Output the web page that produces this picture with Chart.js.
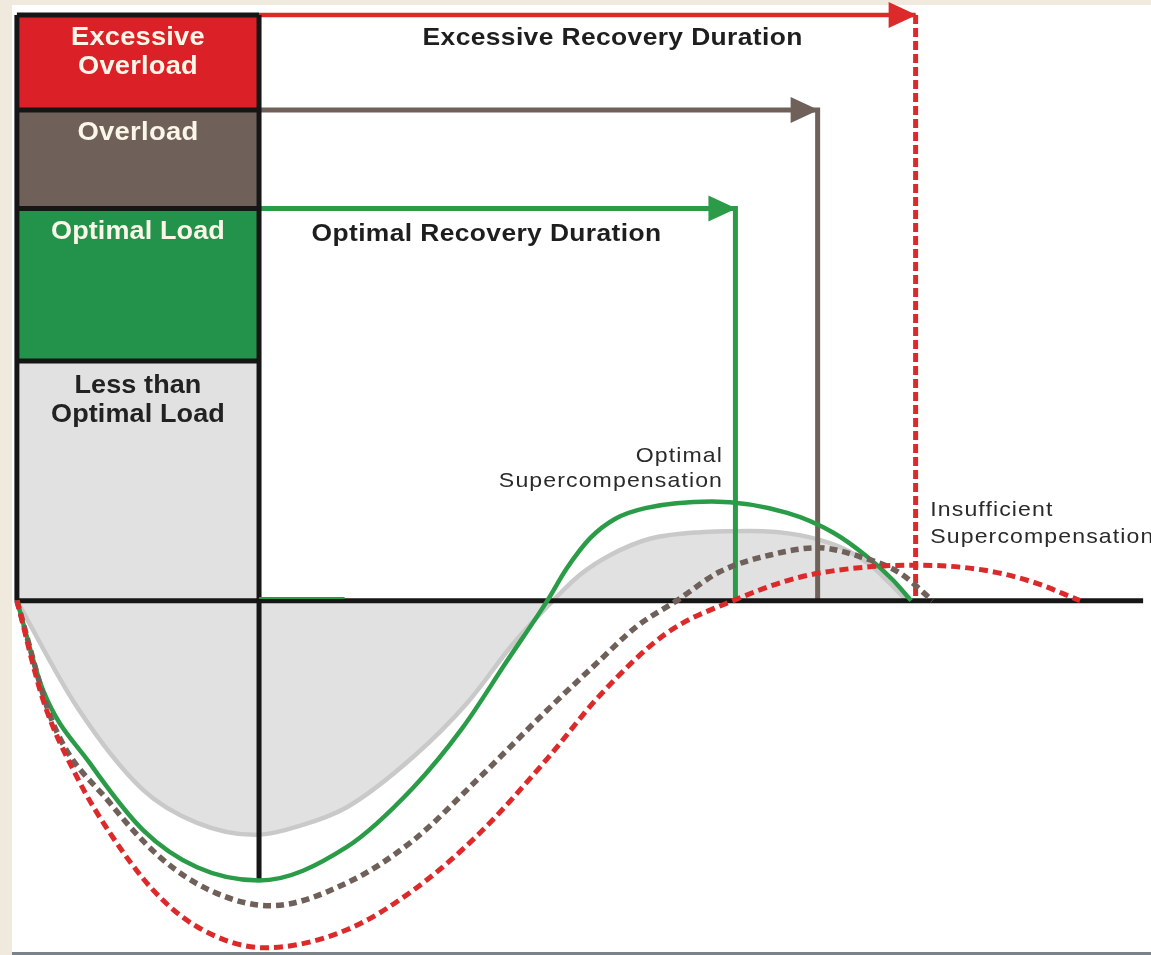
<!DOCTYPE html>
<html><head><meta charset="utf-8">
<script src="https://cdn.jsdelivr.net/npm/chart.js@4.4.1/dist/chart.umd.min.js"></script>
<style>html,body{margin:0;padding:0;background:#efe9de;overflow:hidden}canvas{display:block}</style>
</head><body>
<canvas id="c" width="1151" height="955"></canvas>
<script>
// ---------- data (time units on x, performance level on y; 0 = baseline) ----------
const loadCategories = ['Excessive Overload', 'Overload', 'Optimal Load', 'Less than Optimal Load'];
const loadLevels = [97.5, 81.7, 65.3, 39.9];      // top of each load block
const loadEnd = 21.5;                              // end of the training load
const recoveryEnds = [79.8, 71.1, 63.8];           // excessive, overload, optimal recovery end
const axisEnd = 100;

const lessX = [0, 5.34, 11.2, 16.0, 21.1, 25.1, 29.3, 35.2, 40.0, 44.1, 47.6, 50.0, 52.7, 56.2, 60.7, 65.1, 69.5, 73.1, 75.8, 77.5, 79.0];
const lessY = [0, -17.7, -31.5, -37.0, -39.0, -37.5, -34.4, -26.0, -17.0, -7.1, 0, 4.3, 7.6, 10.3, 11.4, 11.6, 10.9, 8.9, 5.9, 2.9, 0];

const optimalX = [0, 2.32, 6.49, 11.2, 16.0, 21.5, 29.3, 35.2, 39.6, 43.5, 47.1, 48.8, 50.9, 53.1, 55.8, 61.7, 68.4, 72.5, 75.5, 77.8, 79.4];
const optimalY = [0, -14.9, -27.1, -38.2, -44.4, -46.6, -41.0, -31.1, -21.1, -10.1, 0, 5.3, 10.4, 13.6, 15.4, 16.5, 14.6, 11.3, 7.3, 3.4, 0];

const overloadX = [0, 3.21, 8.27, 12.7, 17.1, 22.5, 29.3, 35.2, 41.1, 47.1, 51.5, 55.1, 58.6, 62.4, 66.9, 71.1, 74.9, 78.4, 81.3];
const overloadY = [0, -20.4, -33.7, -42.7, -48.2, -50.8, -47.0, -39.9, -29.4, -18.2, -10.4, -4.2, 0, 4.8, 7.6, 8.8, 7.3, 4.6, 0];

const excessiveX = [0, 2.32, 5.34, 8.27, 12.1, 16.0, 22.0, 29.3, 35.2, 41.1, 47.1, 51.8, 57.7, 63.6, 69.5, 75.5, 79.9, 85.8, 90.2, 94.4];
const excessiveY = [0, -16.5, -29.4, -38.7, -48.2, -54.3, -57.8, -54.8, -48.2, -38.7, -26.3, -15.7, -5.4, 0, 3.9, 5.6, 5.9, 5.1, 3.1, 0];

const boxLabelLines = [['Excessive', 'Overload'], ['Overload'], ['Optimal Load'], ['Less than', 'Optimal Load']];
const durationLabels = ['Excessive Recovery Duration', 'Optimal Recovery Duration'];
const supercompLabels = [['Optimal', 'Supercompensation'], ['Insufficient', 'Supercompensation']];

// ---------- styles & layout ----------
const C = {
  red: '#dc2027', redLine: '#dc2a2b', brown: '#6f615a', greenBox: '#23924a', green: '#2a9c48',
  gray: '#e1e1e1', grayLine: '#c9c9c9', black: '#161616', cream: '#fbf6e8'
};
const boxColors = [C.red, C.brown, C.greenBox, C.gray];
const FONT = "'Liberation Sans', Arial, sans-serif";
const SMOOTH = {cubicInterpolationMode: 'monotone'};

const pts = (xs, ys) => xs.map((x, i) => ({x, y: ys[i]}));

const datasets = [];
// load blocks: each top edge fills down to the next one
loadLevels.forEach((lvl, i) => {
  datasets.push({
    data: [{x: 0, y: lvl}, {x: loadEnd, y: lvl}],
    borderColor: C.black, borderWidth: 5, backgroundColor: boxColors[i],
    fill: i < loadLevels.length - 1 ? i + 1 : 'origin', tension: 0, order: 14 - i
  });
});
// less than optimal curve with shaded area
datasets.push({data: pts(lessX, lessY), borderColor: C.grayLine, borderWidth: 4.5, backgroundColor: C.gray,
  fill: 'origin', ...SMOOTH, order: 9});
// black frame lines
datasets.push({data: [{x: 0, y: loadLevels[0]}, {x: 0, y: 0}], borderColor: C.black, borderWidth: 5, order: 5});
datasets.push({data: [{x: loadEnd, y: loadLevels[0]}, {x: loadEnd, y: Math.min(...optimalY)}], borderColor: C.black, borderWidth: 5, order: 5});
datasets.push({data: [{x: 0, y: 0}, {x: axisEnd, y: 0}], borderColor: C.black, borderWidth: 5, order: 5});
// recovery arrows
datasets.push({data: [{x: loadEnd, y: loadLevels[2]}, {x: recoveryEnds[2], y: loadLevels[2]}, {x: recoveryEnds[2], y: 0}],
  borderColor: C.green, borderWidth: 5, order: 6, arrowAt: 1, arrowColor: C.green});
datasets.push({data: [{x: loadEnd, y: loadLevels[1]}, {x: recoveryEnds[1], y: loadLevels[1]}, {x: recoveryEnds[1], y: 0}],
  borderColor: C.brown, borderWidth: 5, order: 6, arrowAt: 1, arrowColor: C.brown});
datasets.push({data: [{x: loadEnd, y: loadLevels[0]}, {x: recoveryEnds[0], y: loadLevels[0]}],
  borderColor: C.redLine, borderWidth: 4.5, order: 6, arrowAt: 1, arrowColor: C.redLine});
datasets.push({data: [{x: recoveryEnds[0], y: loadLevels[0]}, {x: recoveryEnds[0], y: 0}],
  borderColor: C.redLine, borderWidth: 5, borderDash: [9, 4], order: 6});
// response curves
datasets.push({data: pts(optimalX, optimalY), borderColor: C.green, borderWidth: 4.5, ...SMOOTH, order: 3});
datasets.push({data: pts(overloadX, overloadY), borderColor: C.brown, borderWidth: 5.5, borderDash: [8, 5], ...SMOOTH, order: 2});
datasets.push({data: pts(excessiveX, excessiveY), borderColor: C.redLine, borderWidth: 5, borderDash: [9, 5], ...SMOOTH, order: 1});
// thin green trace along the baseline after the load
datasets.push({data: [{x: loadEnd, y: 0.45}, {x: 29.1, y: 0.45}], borderColor: C.green, borderWidth: 2, order: 0});

datasets.forEach(d => { d.pointRadius = 0; d.pointHoverRadius = 0; if (d.fill === undefined) d.fill = false; if (d.tension === undefined) d.tension = 0; });

// text placement (data coordinates)
const textSpecs = [
  {lines: boxLabelLines[0], x: loadEnd / 2, y: 93.7, lh: 29, font: 'bold 25px ' + FONT, color: C.cream, align: 'center', sx: 1.09, sp: 0.2},
  {lines: boxLabelLines[1], x: loadEnd / 2, y: 77.9, lh: 29, font: 'bold 25px ' + FONT, color: C.cream, align: 'center', sx: 1.1, sp: 0.2},
  {lines: boxLabelLines[2], x: loadEnd / 2, y: 61.4, lh: 29, font: 'bold 25px ' + FONT, color: C.cream, align: 'center', sx: 1.08, sp: 0.1},
  {lines: boxLabelLines[3], x: loadEnd / 2, y: 35.7, lh: 29, font: 'bold 25px ' + FONT, color: '#222', align: 'center', sx: 1.08, sp: 0.1},
  {lines: [durationLabels[0]], x: 52.9, y: 93.6, lh: 0, font: 'bold 24px ' + FONT, color: '#1e1e1e', align: 'center', sx: 1.1, sp: 0.35},
  {lines: [durationLabels[1]], x: 41.7, y: 60.9, lh: 0, font: 'bold 24px ' + FONT, color: '#1e1e1e', align: 'center', sx: 1.1, sp: 0.35},
  {lines: supercompLabels[0], x: 62.7, y: 24.1, lh: 25, font: '21px ' + FONT, color: '#2a2a2a', align: 'right', sx: 1.1, sp: 1},
  {lines: supercompLabels[1], x: 81.1, y: 15.1, lh: 27, font: '21px ' + FONT, color: '#2a2a2a', align: 'left', sx: 1.1, sp: 1}
];

const backgroundPlugin = {
  id: 'bg',
  beforeDraw(chart) {
    const ctx = chart.ctx, w = chart.width, h = chart.height;
    ctx.save();
    ctx.fillStyle = '#efe9de'; ctx.fillRect(0, 0, w, h);
    ctx.fillStyle = '#ffffff'; ctx.fillRect(12, 5, w - 12, h - 8);
    ctx.fillStyle = '#7a828a'; ctx.fillRect(12, h - 3, w - 12, 3);
    ctx.restore();
  }
};

const arrowPlugin = {
  id: 'arrows',
  afterDatasetsDraw(chart) {
    const ctx = chart.ctx;
    chart.data.datasets.forEach((ds, i) => {
      if (ds.arrowAt === undefined) return;
      const meta = chart.getDatasetMeta(i);
      const p = meta.data[ds.arrowAt], q = meta.data[ds.arrowAt - 1];
      const a = Math.atan2(p.y - q.y, p.x - q.x);
      const L = 27, W = 13;
      const bx = p.x - L * Math.cos(a), by = p.y - L * Math.sin(a);
      ctx.save();
      ctx.fillStyle = ds.arrowColor;
      ctx.beginPath();
      ctx.moveTo(p.x + 1, p.y);
      ctx.lineTo(bx - W * Math.sin(a), by + W * Math.cos(a));
      ctx.lineTo(bx + W * Math.sin(a), by - W * Math.cos(a));
      ctx.closePath();
      ctx.fill();
      ctx.restore();
    });
  }
};

const textPlugin = {
  id: 'texts',
  afterDraw(chart) {
    const ctx = chart.ctx, xs = chart.scales.x, ys = chart.scales.y;
    textSpecs.forEach(s => {
      s.lines.forEach((t, k) => {
        ctx.save();
        ctx.font = s.font; ctx.fillStyle = s.color; ctx.textAlign = s.align; ctx.textBaseline = 'middle';
        if ('letterSpacing' in ctx) ctx.letterSpacing = s.sp + 'px';
        ctx.translate(xs.getPixelForValue(s.x), ys.getPixelForValue(s.y) + k * s.lh);
        ctx.scale(s.sx, 1);
        ctx.fillText(t, 0, 0);
        ctx.restore();
      });
    });
  }
};

new Chart(document.getElementById('c'), {
  type: 'line',
  data: {datasets},
  options: {
    responsive: false, animation: false, devicePixelRatio: 1, events: [],
    layout: {padding: 0, autoPadding: false},
    plugins: {legend: {display: false}, tooltip: {enabled: false}},
    scales: {
      x: {type: 'linear', min: -1.5, max: 100.7, display: false},
      y: {type: 'linear', min: -59, max: 100, display: false}
    }
  },
  plugins: [backgroundPlugin, arrowPlugin, textPlugin]
});
</script>
</body></html>
